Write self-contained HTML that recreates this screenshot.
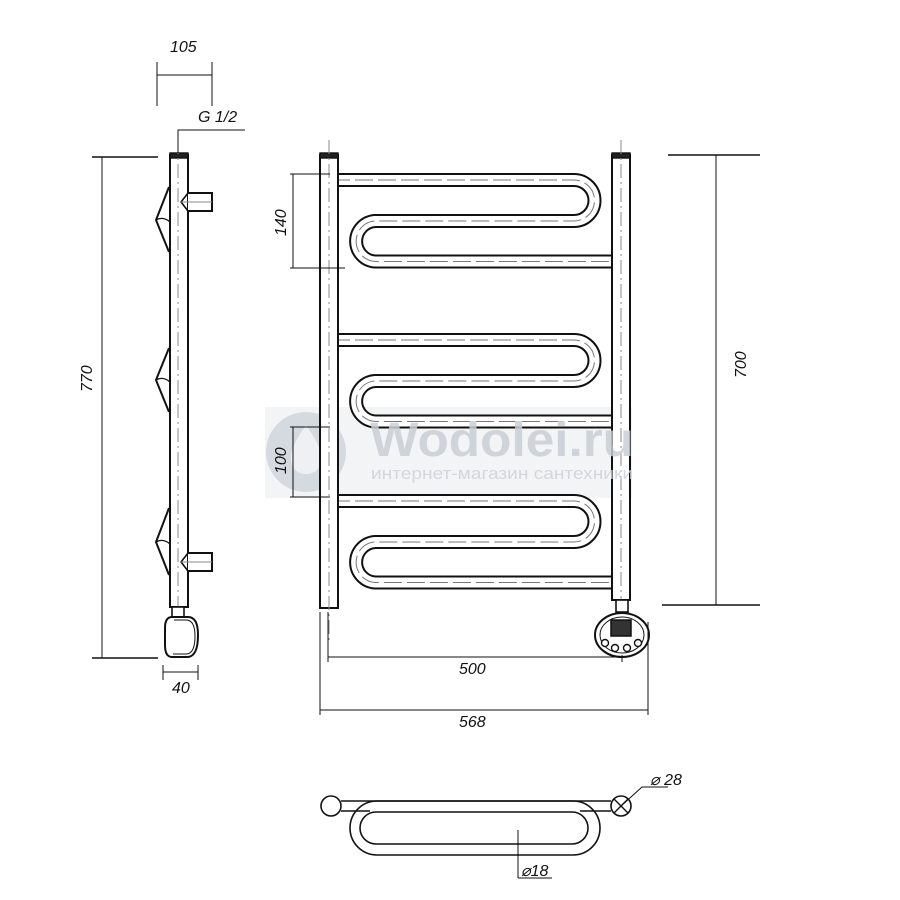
<!DOCTYPE html>
<html><head><meta charset="utf-8"><style>html,body{margin:0;padding:0;background:#fff}svg{display:block}</style></head>
<body>
<svg width="900" height="900" viewBox="0 0 900 900" xmlns="http://www.w3.org/2000/svg" font-family="Liberation Sans, sans-serif">
<rect width="900" height="900" fill="#fff"/>
<!-- watermark band -->
<rect x="265" y="407" width="367" height="91" fill="#f3f4f6"/>
<circle cx="306" cy="452" r="40" fill="#d5dae1"/>
<path d="M306 425 C296 440 288 452 292 465 C296 477 316 477 320 465 C324 452 316 440 306 425Z" fill="#eef0f3"/>

<g fill="none" stroke="#111" stroke-width="1.4">
<!-- ===== SIDE VIEW ===== -->
<rect x="170" y="155" width="18" height="452" fill="#fff" stroke-width="2"/>
<rect x="170" y="153" width="18" height="5" fill="#222"/>
<line x1="178" y1="140" x2="178" y2="620" stroke="#888" stroke-width="1" stroke-dasharray="14,4,2,4"/>
<path d="M188 193 H212 V211 H188" fill="#fff" stroke-width="2"/>
<path d="M188 193 L181 202 L188 211" stroke-width="1.6"/>
<line x1="180" y1="202" x2="212" y2="202" stroke="#888" stroke-width="1"/>
<path d="M188 553 H212 V571 H188" fill="#fff" stroke-width="2"/>
<path d="M188 553 L181 562 L188 571" stroke-width="1.6"/>
<line x1="180" y1="562" x2="212" y2="562" stroke="#888" stroke-width="1"/>
<path d="M169 187 L156 220 L169 252" stroke-width="2"/>
<path d="M156 220 Q163 216 170 222" stroke-width="1.3"/>
<path d="M169 348 L156 380 L169 412" stroke-width="2"/>
<path d="M156 380 Q163 376 170 382" stroke-width="1.3"/>
<path d="M169 508 L156 542 L169 575" stroke-width="2"/>
<path d="M156 542 Q163 538 170 544" stroke-width="1.3"/>
<rect x="172" y="607" width="12" height="10" fill="#fff" stroke-width="1.6"/>
<path d="M172 617 H188 Q198 617 198 635 Q198 656 188 657 H172 Q165 657 165 645 V628 Q165 617 172 617Z" fill="#fff" stroke-width="2"/>
<path d="M174 620 H187 Q195 621 195 636 Q195 653 187 654 H173" stroke-width="1"/>
<line x1="92" y1="157" x2="158" y2="157" stroke-width="1.6"/>
<line x1="92" y1="658" x2="158" y2="658" stroke-width="1.6"/>
<line x1="102" y1="157" x2="102" y2="658" stroke-width="1"/>
<line x1="157" y1="62" x2="157" y2="106" stroke-width="1"/>
<line x1="212" y1="62" x2="212" y2="106" stroke-width="1"/>
<line x1="157" y1="75" x2="212" y2="75" stroke-width="1"/>
<path d="M178 153 V130 H245" stroke-width="1"/>
<line x1="163" y1="665" x2="163" y2="680" stroke-width="1"/>
<line x1="198" y1="665" x2="198" y2="680" stroke-width="1"/>
<line x1="163" y1="672" x2="198" y2="672" stroke-width="1"/>

<!-- ===== FRONT VIEW ===== -->
<g id="blk">
<path d="M332 180 H574 A20.5 20.5 0 0 1 574 221 H375 A20.3 20.3 0 0 0 375 261.5 H618" stroke="#111" stroke-width="14"/>
<path d="M332 180 H574 A20.5 20.5 0 0 1 574 221 H375 A20.3 20.3 0 0 0 375 261.5 H618" stroke="#fff" stroke-width="10"/>
<path d="M332 180 H574 A20.5 20.5 0 0 1 574 221 H375 A20.3 20.3 0 0 0 375 261.5 H618" stroke="#777" stroke-width="1" stroke-dasharray="18,5"/>
</g>
<use href="#blk" y="160"/>
<use href="#blk" y="321"/>
<rect x="320" y="155" width="18" height="453" fill="#fff" stroke-width="2"/>
<rect x="320" y="153" width="18" height="5" fill="#222"/>
<rect x="612" y="155" width="18" height="445" fill="#fff" stroke-width="2"/>
<rect x="612" y="153" width="18" height="5" fill="#222"/>
<line x1="329" y1="140" x2="329" y2="640" stroke="#888" stroke-width="1" stroke-dasharray="14,4,2,4"/>
<line x1="621" y1="140" x2="621" y2="600" stroke="#888" stroke-width="1" stroke-dasharray="14,4,2,4"/>
<rect x="616" y="600" width="12" height="12" fill="#fff" stroke-width="1.6"/>
<ellipse cx="622" cy="635" rx="27" ry="22" fill="#fff" stroke-width="2"/>
<ellipse cx="622" cy="635" rx="22" ry="18" stroke-width="1"/>
<rect x="611" y="620" width="20" height="16" fill="#333" stroke-width="1.5"/>
<circle cx="605" cy="643" r="3.5" fill="#fff"/>
<circle cx="615" cy="648" r="3.5" fill="#fff"/>
<circle cx="627" cy="648" r="3.5" fill="#fff"/>
<circle cx="638" cy="643" r="3.5" fill="#fff"/>
<line x1="290" y1="174" x2="330" y2="174" stroke-width="1"/>
<line x1="290" y1="268" x2="345" y2="268" stroke-width="1"/>
<line x1="293" y1="174" x2="293" y2="268" stroke-width="1"/>
<line x1="290" y1="427" x2="330" y2="427" stroke-width="1"/>
<line x1="290" y1="497" x2="330" y2="497" stroke-width="1"/>
<line x1="293" y1="427" x2="293" y2="497" stroke-width="1"/>
<line x1="668" y1="155" x2="760" y2="155" stroke-width="1.6"/>
<line x1="662" y1="605" x2="760" y2="605" stroke-width="1.6"/>
<line x1="716" y1="155" x2="716" y2="605" stroke-width="1"/>
<line x1="328" y1="612" x2="328" y2="662" stroke-width="1"/>
<line x1="622" y1="655" x2="622" y2="662" stroke-width="1"/>
<line x1="328" y1="657" x2="622" y2="657" stroke-width="1"/>
<line x1="320" y1="612" x2="320" y2="715" stroke-width="1"/>
<line x1="648" y1="622" x2="648" y2="715" stroke-width="1"/>
<line x1="320" y1="710" x2="648" y2="710" stroke-width="1"/>

<!-- ===== TOP VIEW ===== -->
<rect x="350" y="801" width="250" height="54" rx="27" fill="#fff" stroke-width="1.6"/>
<rect x="360" y="812" width="228" height="32" rx="16" stroke-width="1.6"/>
<path d="M341 801 H611 M341 811 H370 M580 811 H611" stroke-width="1.6"/>
<circle cx="331" cy="806" r="10" fill="#fff" stroke-width="1.6"/>
<circle cx="621" cy="806" r="10" fill="#fff" stroke-width="1.6"/>
<path d="M614 799 L628 813 M628 799 L614 813" stroke-width="1.4"/>
<path d="M621 806 L642 787 H668" stroke-width="1"/>
<line x1="518" y1="830" x2="518" y2="878" stroke-width="1"/>
<line x1="518" y1="878" x2="552" y2="878" stroke-width="1"/>
</g>

<!-- watermark text over drawing -->
<g opacity="0.85">
<text x="370" y="456" font-size="48" font-weight="bold" fill="#c9cfd7" textLength="264" lengthAdjust="spacingAndGlyphs">Wodolei.ru</text>
<text x="371" y="479" font-size="17" fill="#cdd2d9" textLength="262" lengthAdjust="spacingAndGlyphs">интернет-магазин сантехники</text>
</g>

<g font-style="italic" font-size="16" fill="#111">
<text x="170" y="52">105</text>
<text x="198" y="122">G 1/2</text>
<text x="172" y="693">40</text>
<text transform="translate(92,392) rotate(-90)">770</text>
<text transform="translate(286,236) rotate(-90)">140</text>
<text transform="translate(286,474) rotate(-90)">100</text>
<text transform="translate(746,378) rotate(-90)">700</text>
<text x="459" y="674">500</text>
<text x="459" y="727">568</text>
<text x="650" y="785">⌀ 28</text>
<text x="521" y="876">⌀18</text>
</g>
</svg>
</body></html>
